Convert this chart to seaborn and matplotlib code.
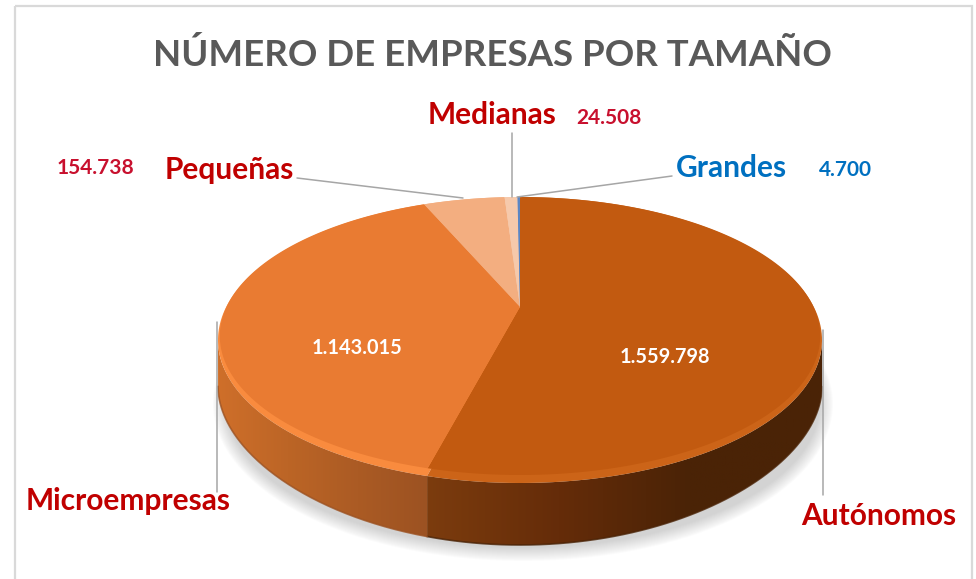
import numpy as np
import matplotlib
matplotlib.use("Agg")
import matplotlib.pyplot as plt
import seaborn as sns
from matplotlib.colors import LinearSegmentedColormap
from matplotlib.patches import Ellipse, PathPatch, Rectangle
from matplotlib.path import Path
from matplotlib.transforms import Affine2D, Transform

# Data
categorias = ["Autónomos", "Microempresas", "Pequeñas", "Medianas", "Grandes"]
empresas = [1559798, 1143015, 154738, 24508, 4700]

# Colours of the top face, the bevel and the side wall
colores = ["#C25A10", "#E97B32", "#F3AE80", "#F6C9AB", "#5B86C4"]
colores_borde = ["#CC6418", "#F98B3E", "#F3AE80", "#F6C9AB", "#5B86C4"]
pared = [["#7C3C0E", "#652C09", "#4A2306", "#4A2306"],
         ["#CF6F2A", "#BC6526", "#AB5B24", "#9C5222"]]

sns.set_theme(style="white")
plt.rcParams["font.family"] = ["Lato", "DejaVu Sans"]

# Pie geometry in pixels
cx, cy, rx, ry = 520, 340, 302, 143
tilt = 0.21


def proyectar(x, y):
    # perspective: the disc stays a disc, its centre moves towards the back
    d = 1 + tilt * y
    return x * np.sqrt(1 - tilt ** 2) / d, (y + tilt) / d


class Disco(Transform):
    input_dims = 2
    output_dims = 2
    has_inverse = False
    is_affine = False

    def __init__(self, sx=1.0, sy=1.0, dy=0.0):
        super().__init__()
        self.sx, self.sy, self.dy = sx, sy, dy

    def transform_non_affine(self, values):
        v = np.asarray(values)
        x, y = proyectar(v[:, 0], v[:, 1])
        return np.column_stack([cx + rx * self.sx * x, cy + self.dy - ry * self.sy * y])

    def transform_path_non_affine(self, path):
        # flatten the arcs first, a projection does not keep bezier curves
        p = path.transformed(Affine2D().scale(2000)).to_polygons(closed_only=False)[0] / 2000
        return Path(self.transform_non_affine(p))


def profundidad(y):
    return 46 + 16 * y ** 2


fig, ax = plt.subplots(figsize=(9.76, 5.79), dpi=100)
fig.subplots_adjust(0, 0, 1, 1)

# Soft shadow under the pie
for k in range(14):
    ax.add_patch(Ellipse((cx + 3, cy + 64), 2 * (rx + 8 - k), 2 * (ry + 14 - k),
                         fc="#8c8c8c", ec="none", alpha=0.026, zorder=1))

# Side wall of every slice, only the part that faces the viewer
fracciones = np.cumsum([0] + empresas) / sum(empresas)
for i, c in enumerate(pared):
    t = 2 * np.pi * np.linspace(fracciones[i], fracciones[i + 1], 400)
    x, y = proyectar(np.sin(t), np.cos(t))
    x, y = x[y <= 0], y[y <= 0]
    px = cx + rx * x
    arriba = cy - ry * y
    abajo = arriba + profundidad(y)
    pts = np.vstack([np.column_stack([px, arriba]),
                     np.column_stack([px, abajo])[::-1]])
    clip = PathPatch(Path(pts), fc="none", ec="none", transform=ax.transData)
    ax.add_patch(clip)
    cmap = LinearSegmentedColormap.from_list("pared", c)
    grad = np.linspace(0, 1, 256)[None, :]
    if px[0] > px[-1]:
        x0, x1 = px[-1], px[0]
    else:
        x0, x1 = px[0], px[-1]
    im = ax.imshow(grad, cmap=cmap, extent=(x0, x1, abajo.max(), arriba.min()),
                   aspect="auto", zorder=2)
    im.set_clip_path(clip)
    ax.plot(px, abajo, color=c[-1], lw=1.2, alpha=0.8, zorder=2.1)

# Bevel, then top face
sin_borde = {"linewidth": 0, "edgecolor": "none"}
borde, _ = ax.pie(empresas, colors=colores_borde, startangle=90, counterclock=False,
                  wedgeprops=sin_borde)
for w in borde:
    w.set_transform(Disco() + ax.transData)
    w.set_zorder(3)
cara, _ = ax.pie(empresas, colors=colores, startangle=90, counterclock=False,
                 wedgeprops=sin_borde)
for w in cara:
    w.set_transform(Disco(0.994, 0.972, -4) + ax.transData)
    w.set_zorder(4)

ax.set_aspect("auto")
ax.set_xlim(0, 976)
ax.set_ylim(579, 0)
ax.axis("off")

# Frame of the chart
ax.add_patch(Rectangle((15, 6), 957, 600, fc="none", ec="#D9D9D9", lw=1.6, zorder=0))

# Leader lines
guias = [((217, 217), (322, 492)), ((823, 823), (330, 495)),
         ((297, 463), (178, 198)), ((511.5, 511.5), (133, 197)),
         ((517, 672), (197, 176))]
for gx, gy in guias:
    ax.plot(gx, gy, color="#A6A6A6", lw=1.1, zorder=5)

ax.text(492.5, 55, "NÚMERO DE EMPRESAS POR TAMAÑO", color="#595959", fontsize=26.4,
        fontweight="bold", ha="center", va="center")

rojo = "#C00000"
azul = "#0070C0"
ax.text(128, 501, categorias[1], color=rojo, fontsize=21.5, fontweight="bold", ha="center", va="center")
ax.text(879, 516, categorias[0], color=rojo, fontsize=21.5, fontweight="bold", ha="center", va="center")
ax.text(229, 170, categorias[2], color=rojo, fontsize=21.5, fontweight="bold", ha="center", va="center")
ax.text(492, 115, categorias[3], color=rojo, fontsize=21.5, fontweight="bold", ha="center", va="center")
ax.text(731, 168, categorias[4], color=azul, fontsize=21.5, fontweight="bold", ha="center", va="center")


def puntos(v):
    return f"{v:,}".replace(",", ".")


ax.text(665, 357, puntos(empresas[0]), color="white", fontsize=14.3, fontweight="bold", ha="center", va="center", zorder=6)
ax.text(357, 348, puntos(empresas[1]), color="white", fontsize=14.3, fontweight="bold", ha="center", va="center", zorder=6)
ax.text(95, 168, puntos(empresas[2]), color="#C8102E", fontsize=15, fontweight="bold", ha="center", va="center")
ax.text(609, 118, puntos(empresas[3]), color="#C8102E", fontsize=15, fontweight="bold", ha="center", va="center")
ax.text(845, 170, puntos(empresas[4]), color=azul, fontsize=15, fontweight="bold", ha="center", va="center")

fig.savefig("out.png", dpi=100, facecolor="white")
